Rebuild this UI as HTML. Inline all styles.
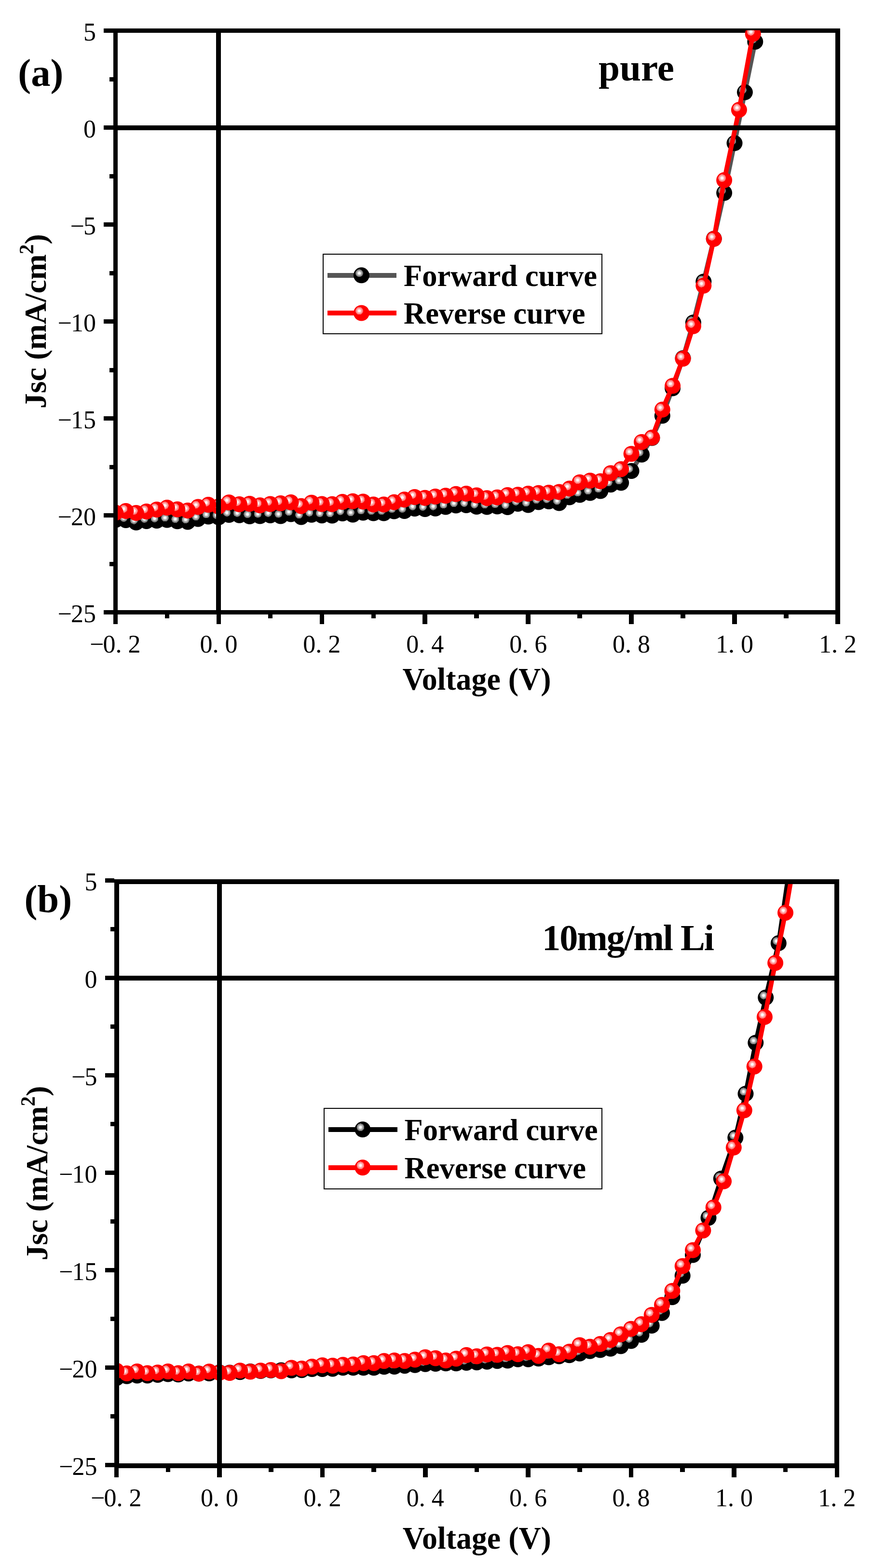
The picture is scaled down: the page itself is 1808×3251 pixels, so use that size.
<!DOCTYPE html>
<html><head><meta charset="utf-8"><title>J-V curves</title>
<style>html,body{margin:0;padding:0;background:#fff;}svg{display:block;}svg rect{shape-rendering:crispEdges;}</style>
</head><body>
<svg width="1808" height="3251" viewBox="0 0 1808 3251">
<defs>
<radialGradient id="ballK" cx="0.364" cy="0.364" r="0.242" fx="0.364" fy="0.364">
<stop offset="0" stop-color="#fafafa"/><stop offset="0.36" stop-color="#f6f6f6"/>
<stop offset="0.37" stop-color="#c4c4c4"/><stop offset="0.62" stop-color="#b8b8b8"/>
<stop offset="0.63" stop-color="#9a9a9a"/><stop offset="0.8" stop-color="#8e8e8e"/>
<stop offset="0.81" stop-color="#767676"/><stop offset="0.985" stop-color="#707070"/>
<stop offset="1" stop-color="#000"/>
</radialGradient>
<radialGradient id="ballR" cx="0.364" cy="0.364" r="0.242" fx="0.364" fy="0.364">
<stop offset="0" stop-color="#fffafa"/><stop offset="0.36" stop-color="#fff6f6"/>
<stop offset="0.37" stop-color="#ffc0c0"/><stop offset="0.62" stop-color="#ffb4b4"/>
<stop offset="0.63" stop-color="#ff9898"/><stop offset="0.8" stop-color="#ff8c8c"/>
<stop offset="0.81" stop-color="#ff7272"/><stop offset="0.985" stop-color="#ff6c6c"/>
<stop offset="1" stop-color="#ff0000"/>
</radialGradient>
</defs>
<rect width="1808" height="3251" fill="#fff"/>
<rect x="235" y="59" width="9" height="1215" fill="#000"/>
<rect x="1732" y="59" width="10" height="1215" fill="#000"/>
<rect x="235" y="59" width="1507" height="9" fill="#000"/>
<rect x="235" y="1265" width="1507" height="9" fill="#000"/>
<rect x="215" y="59.1" width="20" height="9.2" fill="#000"/>
<rect x="215" y="260.1" width="20" height="9.2" fill="#000"/>
<rect x="215" y="461.1" width="20" height="9.2" fill="#000"/>
<rect x="215" y="662.1" width="20" height="9.2" fill="#000"/>
<rect x="215" y="863.1" width="20" height="9.2" fill="#000"/>
<rect x="215" y="1064.1" width="20" height="9.2" fill="#000"/>
<rect x="215" y="1265.1" width="20" height="9.2" fill="#000"/>
<rect x="227" y="159.6" width="8" height="9.2" fill="#000"/>
<rect x="227" y="360.6" width="8" height="9.2" fill="#000"/>
<rect x="227" y="561.6" width="8" height="9.2" fill="#000"/>
<rect x="227" y="762.6" width="8" height="9.2" fill="#000"/>
<rect x="227" y="963.6" width="8" height="9.2" fill="#000"/>
<rect x="227" y="1164.6" width="8" height="9.2" fill="#000"/>
<rect x="234.7" y="1274" width="9.6" height="19.7" fill="#000"/>
<rect x="448.6" y="1274" width="9.6" height="19.7" fill="#000"/>
<rect x="662.5" y="1274" width="9.6" height="19.7" fill="#000"/>
<rect x="876.4" y="1274" width="9.6" height="19.7" fill="#000"/>
<rect x="1090.4" y="1274" width="9.6" height="19.7" fill="#000"/>
<rect x="1304.3" y="1274" width="9.6" height="19.7" fill="#000"/>
<rect x="1518.2" y="1274" width="9.6" height="19.7" fill="#000"/>
<rect x="1732.1" y="1274" width="9.6" height="19.7" fill="#000"/>
<rect x="341.6" y="1274" width="9.6" height="7.5" fill="#000"/>
<rect x="555.6" y="1274" width="9.6" height="7.5" fill="#000"/>
<rect x="769.5" y="1274" width="9.6" height="7.5" fill="#000"/>
<rect x="983.4" y="1274" width="9.6" height="7.5" fill="#000"/>
<rect x="1197.3" y="1274" width="9.6" height="7.5" fill="#000"/>
<rect x="1411.2" y="1274" width="9.6" height="7.5" fill="#000"/>
<rect x="1625.2" y="1274" width="9.6" height="7.5" fill="#000"/>
<clipPath id="clipa"><rect x="244" y="62.7" width="1488" height="1202.3"/></clipPath>
<g clip-path="url(#clipa)">
<polyline fill="none" stroke="#555555" stroke-width="9.5" stroke-linejoin="round" points="239.5,1078 260.9,1078.4 282.3,1083.3 303.7,1080.4 325,1079.5 346.4,1078 367.8,1080.8 389.2,1081.9 410.6,1075.9 432,1071 453.4,1072.5 474.8,1067.5 496.2,1068.2 517.6,1070.6 539,1070.1 560.4,1068.4 581.8,1070.1 603.1,1065.9 624.5,1071.9 645.9,1067.3 667.3,1068.7 688.7,1069 710.1,1064.5 731.5,1067 752.9,1063 774.3,1064 795.7,1064 817.1,1060 838.5,1059.5 859.8,1054.5 881.2,1055.5 902.6,1054.3 924,1051 945.4,1048 966.8,1047.5 988.2,1050.5 1009.6,1051 1031,1050 1052.4,1051.5 1073.8,1044.5 1095.2,1047 1116.6,1041 1137.9,1039.6 1159.3,1043.1 1180.7,1031 1202.1,1026 1223.5,1022 1244.9,1018 1266.3,1004.7 1287.7,1001 1309.1,976.5 1330.5,942.5 1351.9,908 1373.3,862 1394.6,805 1416,742.7 1437.4,668.7 1458.8,583.9 1480.2,495 1501.6,400 1523,296.8 1544.4,191.3 1565.8,86.4 1579.7,20"/>
<circle cx="239.5" cy="1078" r="16.5" fill="url(#ballK)"/>
<circle cx="260.9" cy="1078.4" r="16.5" fill="url(#ballK)"/>
<circle cx="282.3" cy="1083.3" r="16.5" fill="url(#ballK)"/>
<circle cx="303.7" cy="1080.4" r="16.5" fill="url(#ballK)"/>
<circle cx="325" cy="1079.5" r="16.5" fill="url(#ballK)"/>
<circle cx="346.4" cy="1078" r="16.5" fill="url(#ballK)"/>
<circle cx="367.8" cy="1080.8" r="16.5" fill="url(#ballK)"/>
<circle cx="389.2" cy="1081.9" r="16.5" fill="url(#ballK)"/>
<circle cx="410.6" cy="1075.9" r="16.5" fill="url(#ballK)"/>
<circle cx="432" cy="1071" r="16.5" fill="url(#ballK)"/>
<circle cx="453.4" cy="1072.5" r="16.5" fill="url(#ballK)"/>
<circle cx="474.8" cy="1067.5" r="16.5" fill="url(#ballK)"/>
<circle cx="496.2" cy="1068.2" r="16.5" fill="url(#ballK)"/>
<circle cx="517.6" cy="1070.6" r="16.5" fill="url(#ballK)"/>
<circle cx="539" cy="1070.1" r="16.5" fill="url(#ballK)"/>
<circle cx="560.4" cy="1068.4" r="16.5" fill="url(#ballK)"/>
<circle cx="581.8" cy="1070.1" r="16.5" fill="url(#ballK)"/>
<circle cx="603.1" cy="1065.9" r="16.5" fill="url(#ballK)"/>
<circle cx="624.5" cy="1071.9" r="16.5" fill="url(#ballK)"/>
<circle cx="645.9" cy="1067.3" r="16.5" fill="url(#ballK)"/>
<circle cx="667.3" cy="1068.7" r="16.5" fill="url(#ballK)"/>
<circle cx="688.7" cy="1069" r="16.5" fill="url(#ballK)"/>
<circle cx="710.1" cy="1064.5" r="16.5" fill="url(#ballK)"/>
<circle cx="731.5" cy="1067" r="16.5" fill="url(#ballK)"/>
<circle cx="752.9" cy="1063" r="16.5" fill="url(#ballK)"/>
<circle cx="774.3" cy="1064" r="16.5" fill="url(#ballK)"/>
<circle cx="795.7" cy="1064" r="16.5" fill="url(#ballK)"/>
<circle cx="817.1" cy="1060" r="16.5" fill="url(#ballK)"/>
<circle cx="838.5" cy="1059.5" r="16.5" fill="url(#ballK)"/>
<circle cx="859.8" cy="1054.5" r="16.5" fill="url(#ballK)"/>
<circle cx="881.2" cy="1055.5" r="16.5" fill="url(#ballK)"/>
<circle cx="902.6" cy="1054.3" r="16.5" fill="url(#ballK)"/>
<circle cx="924" cy="1051" r="16.5" fill="url(#ballK)"/>
<circle cx="945.4" cy="1048" r="16.5" fill="url(#ballK)"/>
<circle cx="966.8" cy="1047.5" r="16.5" fill="url(#ballK)"/>
<circle cx="988.2" cy="1050.5" r="16.5" fill="url(#ballK)"/>
<circle cx="1009.6" cy="1051" r="16.5" fill="url(#ballK)"/>
<circle cx="1031" cy="1050" r="16.5" fill="url(#ballK)"/>
<circle cx="1052.4" cy="1051.5" r="16.5" fill="url(#ballK)"/>
<circle cx="1073.8" cy="1044.5" r="16.5" fill="url(#ballK)"/>
<circle cx="1095.2" cy="1047" r="16.5" fill="url(#ballK)"/>
<circle cx="1116.6" cy="1041" r="16.5" fill="url(#ballK)"/>
<circle cx="1137.9" cy="1039.6" r="16.5" fill="url(#ballK)"/>
<circle cx="1159.3" cy="1043.1" r="16.5" fill="url(#ballK)"/>
<circle cx="1180.7" cy="1031" r="16.5" fill="url(#ballK)"/>
<circle cx="1202.1" cy="1026" r="16.5" fill="url(#ballK)"/>
<circle cx="1223.5" cy="1022" r="16.5" fill="url(#ballK)"/>
<circle cx="1244.9" cy="1018" r="16.5" fill="url(#ballK)"/>
<circle cx="1266.3" cy="1004.7" r="16.5" fill="url(#ballK)"/>
<circle cx="1287.7" cy="1001" r="16.5" fill="url(#ballK)"/>
<circle cx="1309.1" cy="976.5" r="16.5" fill="url(#ballK)"/>
<circle cx="1330.5" cy="942.5" r="16.5" fill="url(#ballK)"/>
<circle cx="1351.9" cy="908" r="16.5" fill="url(#ballK)"/>
<circle cx="1373.3" cy="862" r="16.5" fill="url(#ballK)"/>
<circle cx="1394.6" cy="805" r="16.5" fill="url(#ballK)"/>
<circle cx="1416" cy="742.7" r="16.5" fill="url(#ballK)"/>
<circle cx="1437.4" cy="668.7" r="16.5" fill="url(#ballK)"/>
<circle cx="1458.8" cy="583.9" r="16.5" fill="url(#ballK)"/>
<circle cx="1480.2" cy="495" r="16.5" fill="url(#ballK)"/>
<circle cx="1501.6" cy="400" r="16.5" fill="url(#ballK)"/>
<circle cx="1523" cy="296.8" r="16.5" fill="url(#ballK)"/>
<circle cx="1544.4" cy="191.3" r="16.5" fill="url(#ballK)"/>
<circle cx="1565.8" cy="86.4" r="16.5" fill="url(#ballK)"/>
<polyline fill="none" stroke="#ff0000" stroke-width="9.5" stroke-linejoin="round" points="239.5,1063 260.9,1059.5 282.3,1063.6 303.7,1060.5 325,1056.5 346.4,1052.5 367.8,1056.1 389.2,1058.5 410.6,1051.1 432,1046.6 453.4,1050 474.8,1041.7 496.2,1045.5 517.6,1044.5 539,1047.8 560.4,1045 581.8,1043.6 603.1,1041.5 624.5,1049.2 645.9,1042.2 667.3,1045 688.7,1045.3 710.1,1040.5 731.5,1039.2 752.9,1039.9 774.3,1046.1 795.7,1046.1 817.1,1041.3 838.5,1035.7 859.8,1030.5 881.2,1032.2 902.6,1029.4 924,1027.8 945.4,1024.3 966.8,1023.6 988.2,1027.1 1009.6,1032.7 1031,1031.3 1052.4,1026.4 1073.8,1025.7 1095.2,1023.6 1116.6,1022.2 1137.9,1021.5 1159.3,1020.1 1180.7,1013.1 1202.1,999.9 1223.5,996.4 1244.9,997.8 1266.3,981 1287.7,972.7 1309.1,941 1330.5,916.4 1351.9,907.3 1373.3,849.3 1394.6,800 1416,743.8 1437.4,676.3 1458.8,592.3 1480.2,495.3 1501.6,373.6 1532.4,227.7 1561.2,70.3 1570.4,20"/>
<circle cx="1561.2" cy="70.3" r="16.5" fill="url(#ballR)"/>
<circle cx="1532.4" cy="227.7" r="16.5" fill="url(#ballR)"/>
<circle cx="1501.6" cy="373.6" r="16.5" fill="url(#ballR)"/>
<circle cx="1480.2" cy="495.3" r="16.5" fill="url(#ballR)"/>
<circle cx="1458.8" cy="592.3" r="16.5" fill="url(#ballR)"/>
<circle cx="1437.4" cy="676.3" r="16.5" fill="url(#ballR)"/>
<circle cx="1416" cy="743.8" r="16.5" fill="url(#ballR)"/>
<circle cx="1394.6" cy="800" r="16.5" fill="url(#ballR)"/>
<circle cx="1373.3" cy="849.3" r="16.5" fill="url(#ballR)"/>
<circle cx="1351.9" cy="907.3" r="16.5" fill="url(#ballR)"/>
<circle cx="1330.5" cy="916.4" r="16.5" fill="url(#ballR)"/>
<circle cx="1309.1" cy="941" r="16.5" fill="url(#ballR)"/>
<circle cx="1287.7" cy="972.7" r="16.5" fill="url(#ballR)"/>
<circle cx="1266.3" cy="981" r="16.5" fill="url(#ballR)"/>
<circle cx="1244.9" cy="997.8" r="16.5" fill="url(#ballR)"/>
<circle cx="1223.5" cy="996.4" r="16.5" fill="url(#ballR)"/>
<circle cx="1202.1" cy="999.9" r="16.5" fill="url(#ballR)"/>
<circle cx="1180.7" cy="1013.1" r="16.5" fill="url(#ballR)"/>
<circle cx="1159.3" cy="1020.1" r="16.5" fill="url(#ballR)"/>
<circle cx="1137.9" cy="1021.5" r="16.5" fill="url(#ballR)"/>
<circle cx="1116.6" cy="1022.2" r="16.5" fill="url(#ballR)"/>
<circle cx="1095.2" cy="1023.6" r="16.5" fill="url(#ballR)"/>
<circle cx="1073.8" cy="1025.7" r="16.5" fill="url(#ballR)"/>
<circle cx="1052.4" cy="1026.4" r="16.5" fill="url(#ballR)"/>
<circle cx="1031" cy="1031.3" r="16.5" fill="url(#ballR)"/>
<circle cx="1009.6" cy="1032.7" r="16.5" fill="url(#ballR)"/>
<circle cx="988.2" cy="1027.1" r="16.5" fill="url(#ballR)"/>
<circle cx="966.8" cy="1023.6" r="16.5" fill="url(#ballR)"/>
<circle cx="945.4" cy="1024.3" r="16.5" fill="url(#ballR)"/>
<circle cx="924" cy="1027.8" r="16.5" fill="url(#ballR)"/>
<circle cx="902.6" cy="1029.4" r="16.5" fill="url(#ballR)"/>
<circle cx="881.2" cy="1032.2" r="16.5" fill="url(#ballR)"/>
<circle cx="859.8" cy="1030.5" r="16.5" fill="url(#ballR)"/>
<circle cx="838.5" cy="1035.7" r="16.5" fill="url(#ballR)"/>
<circle cx="817.1" cy="1041.3" r="16.5" fill="url(#ballR)"/>
<circle cx="795.7" cy="1046.1" r="16.5" fill="url(#ballR)"/>
<circle cx="774.3" cy="1046.1" r="16.5" fill="url(#ballR)"/>
<circle cx="752.9" cy="1039.9" r="16.5" fill="url(#ballR)"/>
<circle cx="731.5" cy="1039.2" r="16.5" fill="url(#ballR)"/>
<circle cx="710.1" cy="1040.5" r="16.5" fill="url(#ballR)"/>
<circle cx="688.7" cy="1045.3" r="16.5" fill="url(#ballR)"/>
<circle cx="667.3" cy="1045" r="16.5" fill="url(#ballR)"/>
<circle cx="645.9" cy="1042.2" r="16.5" fill="url(#ballR)"/>
<circle cx="624.5" cy="1049.2" r="16.5" fill="url(#ballR)"/>
<circle cx="603.1" cy="1041.5" r="16.5" fill="url(#ballR)"/>
<circle cx="581.8" cy="1043.6" r="16.5" fill="url(#ballR)"/>
<circle cx="560.4" cy="1045" r="16.5" fill="url(#ballR)"/>
<circle cx="539" cy="1047.8" r="16.5" fill="url(#ballR)"/>
<circle cx="517.6" cy="1044.5" r="16.5" fill="url(#ballR)"/>
<circle cx="496.2" cy="1045.5" r="16.5" fill="url(#ballR)"/>
<circle cx="474.8" cy="1041.7" r="16.5" fill="url(#ballR)"/>
<circle cx="453.4" cy="1050" r="16.5" fill="url(#ballR)"/>
<circle cx="432" cy="1046.6" r="16.5" fill="url(#ballR)"/>
<circle cx="410.6" cy="1051.1" r="16.5" fill="url(#ballR)"/>
<circle cx="389.2" cy="1058.5" r="16.5" fill="url(#ballR)"/>
<circle cx="367.8" cy="1056.1" r="16.5" fill="url(#ballR)"/>
<circle cx="346.4" cy="1052.5" r="16.5" fill="url(#ballR)"/>
<circle cx="325" cy="1056.5" r="16.5" fill="url(#ballR)"/>
<circle cx="303.7" cy="1060.5" r="16.5" fill="url(#ballR)"/>
<circle cx="282.3" cy="1063.6" r="16.5" fill="url(#ballR)"/>
<circle cx="260.9" cy="1059.5" r="16.5" fill="url(#ballR)"/>
<circle cx="239.5" cy="1063" r="16.5" fill="url(#ballR)"/>
</g>
<rect x="447.9" y="59" width="10" height="1215" fill="#000"/>
<rect x="235" y="260.4" width="1507" height="9.2" fill="#000"/>
<g font-family="'Liberation Serif','Times New Roman',serif" font-size="52" fill="#000">
<text x="173" y="83.9">5</text>
<text x="173" y="284.9">0</text>
<text x="145.5 173" y="485.9">−5</text>
<text x="119.5 147 173" y="686.9">−10</text>
<text x="119.5 147 173" y="887.9">−15</text>
<text x="119.5 147 173" y="1088.9">−20</text>
<text x="119.5 147 173" y="1289.9">−25</text>
<text x="186 213.5 239.5 265.5" y="1353.3">−0.2</text>
<text x="414.4 440.4 466.4" y="1353.3">0.0</text>
<text x="628.3 654.3 680.3" y="1353.3">0.2</text>
<text x="842.2 868.2 894.2" y="1353.3">0.4</text>
<text x="1056.2 1082.2 1108.2" y="1353.3">0.6</text>
<text x="1270.1 1296.1 1322.1" y="1353.3">0.8</text>
<text x="1484 1510 1536" y="1353.3">1.0</text>
<text x="1697.9 1723.9 1749.9" y="1353.3">1.2</text>
</g>
<rect x="237" y="1823" width="10" height="1221" fill="#000"/>
<rect x="1730" y="1823" width="10" height="1221" fill="#000"/>
<rect x="237" y="1823" width="1503" height="10" fill="#000"/>
<rect x="237" y="3034" width="1503" height="10" fill="#000"/>
<rect x="218" y="1821.2" width="19" height="9.2" fill="#000"/>
<rect x="218" y="2023.2" width="19" height="9.2" fill="#000"/>
<rect x="218" y="2225.2" width="19" height="9.2" fill="#000"/>
<rect x="218" y="2427.2" width="19" height="9.2" fill="#000"/>
<rect x="218" y="2629.2" width="19" height="9.2" fill="#000"/>
<rect x="218" y="2831.2" width="19" height="9.2" fill="#000"/>
<rect x="218" y="3033.2" width="19" height="9.2" fill="#000"/>
<rect x="229" y="1922.2" width="8" height="9.2" fill="#000"/>
<rect x="229" y="2124.2" width="8" height="9.2" fill="#000"/>
<rect x="229" y="2326.2" width="8" height="9.2" fill="#000"/>
<rect x="229" y="2528.2" width="8" height="9.2" fill="#000"/>
<rect x="229" y="2730.2" width="8" height="9.2" fill="#000"/>
<rect x="229" y="2932.2" width="8" height="9.2" fill="#000"/>
<rect x="236.8" y="3044" width="9.6" height="18.6" fill="#000"/>
<rect x="450.2" y="3044" width="9.6" height="18.6" fill="#000"/>
<rect x="663.6" y="3044" width="9.6" height="18.6" fill="#000"/>
<rect x="877" y="3044" width="9.6" height="18.6" fill="#000"/>
<rect x="1090.3" y="3044" width="9.6" height="18.6" fill="#000"/>
<rect x="1303.7" y="3044" width="9.6" height="18.6" fill="#000"/>
<rect x="1517.1" y="3044" width="9.6" height="18.6" fill="#000"/>
<rect x="1730.5" y="3044" width="9.6" height="18.6" fill="#000"/>
<rect x="343.5" y="3044" width="9.6" height="7.5" fill="#000"/>
<rect x="556.9" y="3044" width="9.6" height="7.5" fill="#000"/>
<rect x="770.3" y="3044" width="9.6" height="7.5" fill="#000"/>
<rect x="983.7" y="3044" width="9.6" height="7.5" fill="#000"/>
<rect x="1197" y="3044" width="9.6" height="7.5" fill="#000"/>
<rect x="1410.4" y="3044" width="9.6" height="7.5" fill="#000"/>
<rect x="1623.8" y="3044" width="9.6" height="7.5" fill="#000"/>
<clipPath id="clipb"><rect x="247" y="1833" width="1483" height="1201"/></clipPath>
<g clip-path="url(#clipb)">
<polyline fill="none" stroke="#000000" stroke-width="9.5" stroke-linejoin="round" points="241.6,2857 263,2853.3 284.3,2851.9 305.6,2851.9 327,2850.5 348.3,2849.1 369.6,2849.8 391,2847.7 412.3,2848 433.7,2847.6 455,2845.4 476.3,2846 497.7,2844.7 519,2843.5 540.4,2842.6 561.7,2841.2 583,2841 604.4,2841.2 625.7,2840.7 647,2838.6 668.4,2838.6 689.7,2837.9 711.1,2835.8 732.4,2835.8 753.7,2835.8 775.1,2835.8 796.4,2833.8 817.7,2833.5 839.1,2831.7 860.4,2830.3 881.8,2828.2 903.1,2827.5 924.4,2826.8 945.8,2826.8 967.1,2825.4 988.5,2824.7 1009.8,2823.2 1031.1,2821.7 1052.5,2821 1073.8,2818.2 1095.1,2818.2 1116.5,2816.8 1137.8,2814 1159.2,2811.9 1180.5,2809.8 1201.8,2806.3 1223.2,2801.2 1244.5,2799.1 1265.8,2796.3 1287.2,2791 1308.5,2780.3 1329.9,2767.5 1351.2,2748.6 1372.5,2722.2 1393.9,2689.5 1415.2,2645 1436.5,2602 1469,2525 1495.3,2443.8 1524.8,2358.8 1546,2267.7 1566.8,2162 1587.7,2068.3 1614.3,1955.6 1638.3,1790"/>
<circle cx="241.6" cy="2857" r="16.5" fill="url(#ballK)"/>
<circle cx="263" cy="2853.3" r="16.5" fill="url(#ballK)"/>
<circle cx="284.3" cy="2851.9" r="16.5" fill="url(#ballK)"/>
<circle cx="305.6" cy="2851.9" r="16.5" fill="url(#ballK)"/>
<circle cx="327" cy="2850.5" r="16.5" fill="url(#ballK)"/>
<circle cx="348.3" cy="2849.1" r="16.5" fill="url(#ballK)"/>
<circle cx="369.6" cy="2849.8" r="16.5" fill="url(#ballK)"/>
<circle cx="391" cy="2847.7" r="16.5" fill="url(#ballK)"/>
<circle cx="412.3" cy="2848" r="16.5" fill="url(#ballK)"/>
<circle cx="433.7" cy="2847.6" r="16.5" fill="url(#ballK)"/>
<circle cx="455" cy="2845.4" r="16.5" fill="url(#ballK)"/>
<circle cx="476.3" cy="2846" r="16.5" fill="url(#ballK)"/>
<circle cx="497.7" cy="2844.7" r="16.5" fill="url(#ballK)"/>
<circle cx="519" cy="2843.5" r="16.5" fill="url(#ballK)"/>
<circle cx="540.4" cy="2842.6" r="16.5" fill="url(#ballK)"/>
<circle cx="561.7" cy="2841.2" r="16.5" fill="url(#ballK)"/>
<circle cx="583" cy="2841" r="16.5" fill="url(#ballK)"/>
<circle cx="604.4" cy="2841.2" r="16.5" fill="url(#ballK)"/>
<circle cx="625.7" cy="2840.7" r="16.5" fill="url(#ballK)"/>
<circle cx="647" cy="2838.6" r="16.5" fill="url(#ballK)"/>
<circle cx="668.4" cy="2838.6" r="16.5" fill="url(#ballK)"/>
<circle cx="689.7" cy="2837.9" r="16.5" fill="url(#ballK)"/>
<circle cx="711.1" cy="2835.8" r="16.5" fill="url(#ballK)"/>
<circle cx="732.4" cy="2835.8" r="16.5" fill="url(#ballK)"/>
<circle cx="753.7" cy="2835.8" r="16.5" fill="url(#ballK)"/>
<circle cx="775.1" cy="2835.8" r="16.5" fill="url(#ballK)"/>
<circle cx="796.4" cy="2833.8" r="16.5" fill="url(#ballK)"/>
<circle cx="817.7" cy="2833.5" r="16.5" fill="url(#ballK)"/>
<circle cx="839.1" cy="2831.7" r="16.5" fill="url(#ballK)"/>
<circle cx="860.4" cy="2830.3" r="16.5" fill="url(#ballK)"/>
<circle cx="881.8" cy="2828.2" r="16.5" fill="url(#ballK)"/>
<circle cx="903.1" cy="2827.5" r="16.5" fill="url(#ballK)"/>
<circle cx="924.4" cy="2826.8" r="16.5" fill="url(#ballK)"/>
<circle cx="945.8" cy="2826.8" r="16.5" fill="url(#ballK)"/>
<circle cx="967.1" cy="2825.4" r="16.5" fill="url(#ballK)"/>
<circle cx="988.5" cy="2824.7" r="16.5" fill="url(#ballK)"/>
<circle cx="1009.8" cy="2823.2" r="16.5" fill="url(#ballK)"/>
<circle cx="1031.1" cy="2821.7" r="16.5" fill="url(#ballK)"/>
<circle cx="1052.5" cy="2821" r="16.5" fill="url(#ballK)"/>
<circle cx="1073.8" cy="2818.2" r="16.5" fill="url(#ballK)"/>
<circle cx="1095.1" cy="2818.2" r="16.5" fill="url(#ballK)"/>
<circle cx="1116.5" cy="2816.8" r="16.5" fill="url(#ballK)"/>
<circle cx="1137.8" cy="2814" r="16.5" fill="url(#ballK)"/>
<circle cx="1159.2" cy="2811.9" r="16.5" fill="url(#ballK)"/>
<circle cx="1180.5" cy="2809.8" r="16.5" fill="url(#ballK)"/>
<circle cx="1201.8" cy="2806.3" r="16.5" fill="url(#ballK)"/>
<circle cx="1223.2" cy="2801.2" r="16.5" fill="url(#ballK)"/>
<circle cx="1244.5" cy="2799.1" r="16.5" fill="url(#ballK)"/>
<circle cx="1265.8" cy="2796.3" r="16.5" fill="url(#ballK)"/>
<circle cx="1287.2" cy="2791" r="16.5" fill="url(#ballK)"/>
<circle cx="1308.5" cy="2780.3" r="16.5" fill="url(#ballK)"/>
<circle cx="1329.9" cy="2767.5" r="16.5" fill="url(#ballK)"/>
<circle cx="1351.2" cy="2748.6" r="16.5" fill="url(#ballK)"/>
<circle cx="1372.5" cy="2722.2" r="16.5" fill="url(#ballK)"/>
<circle cx="1393.9" cy="2689.5" r="16.5" fill="url(#ballK)"/>
<circle cx="1415.2" cy="2645" r="16.5" fill="url(#ballK)"/>
<circle cx="1436.5" cy="2602" r="16.5" fill="url(#ballK)"/>
<circle cx="1469" cy="2525" r="16.5" fill="url(#ballK)"/>
<circle cx="1495.3" cy="2443.8" r="16.5" fill="url(#ballK)"/>
<circle cx="1524.8" cy="2358.8" r="16.5" fill="url(#ballK)"/>
<circle cx="1546" cy="2267.7" r="16.5" fill="url(#ballK)"/>
<circle cx="1566.8" cy="2162" r="16.5" fill="url(#ballK)"/>
<circle cx="1587.7" cy="2068.3" r="16.5" fill="url(#ballK)"/>
<circle cx="1614.3" cy="1955.6" r="16.5" fill="url(#ballK)"/>
<polyline fill="none" stroke="#ff0000" stroke-width="9.5" stroke-linejoin="round" points="241.6,2842 263,2847.5 284.3,2843.6 305.6,2847.1 327,2845.7 348.3,2843.6 369.6,2847 391,2843.6 412.3,2848 433.7,2843.8 455,2846 476.3,2846.5 497.7,2841.7 519,2844.1 540.4,2841.7 561.7,2840.6 583,2842.9 604.4,2835.9 625.7,2837.5 647,2833.5 668.4,2830.7 689.7,2831.5 711.1,2829.8 732.4,2829 753.7,2826.2 775.1,2826.2 796.4,2821.7 817.7,2820.8 839.1,2821.7 860.4,2819.1 881.8,2814.1 903.1,2816 924.4,2820.8 945.8,2817.1 967.1,2809.6 988.5,2812.1 1009.8,2808.2 1031.1,2809 1052.5,2805.2 1073.8,2807.8 1095.1,2803.6 1116.5,2811.2 1137.8,2800.3 1159.2,2807.8 1180.5,2802.5 1201.8,2789 1223.2,2792.2 1244.5,2786.6 1265.8,2778.3 1287.2,2766.4 1308.5,2755.2 1329.9,2745.5 1351.2,2726.2 1372.5,2705.4 1393.9,2676.4 1415.2,2625.1 1436.5,2592 1457.9,2551.2 1479.2,2503.4 1500.6,2449.3 1521.3,2379.3 1543.3,2302.1 1564.2,2211.2 1585.4,2108.5 1607.6,1996.5 1628.5,1892.4 1646,1790"/>
<circle cx="1628.5" cy="1892.4" r="16.5" fill="url(#ballR)"/>
<circle cx="1607.6" cy="1996.5" r="16.5" fill="url(#ballR)"/>
<circle cx="1585.4" cy="2108.5" r="16.5" fill="url(#ballR)"/>
<circle cx="1564.2" cy="2211.2" r="16.5" fill="url(#ballR)"/>
<circle cx="1543.3" cy="2302.1" r="16.5" fill="url(#ballR)"/>
<circle cx="1521.3" cy="2379.3" r="16.5" fill="url(#ballR)"/>
<circle cx="1500.6" cy="2449.3" r="16.5" fill="url(#ballR)"/>
<circle cx="1479.2" cy="2503.4" r="16.5" fill="url(#ballR)"/>
<circle cx="1457.9" cy="2551.2" r="16.5" fill="url(#ballR)"/>
<circle cx="1436.5" cy="2592" r="16.5" fill="url(#ballR)"/>
<circle cx="1415.2" cy="2625.1" r="16.5" fill="url(#ballR)"/>
<circle cx="1393.9" cy="2676.4" r="16.5" fill="url(#ballR)"/>
<circle cx="1372.5" cy="2705.4" r="16.5" fill="url(#ballR)"/>
<circle cx="1351.2" cy="2726.2" r="16.5" fill="url(#ballR)"/>
<circle cx="1329.9" cy="2745.5" r="16.5" fill="url(#ballR)"/>
<circle cx="1308.5" cy="2755.2" r="16.5" fill="url(#ballR)"/>
<circle cx="1287.2" cy="2766.4" r="16.5" fill="url(#ballR)"/>
<circle cx="1265.8" cy="2778.3" r="16.5" fill="url(#ballR)"/>
<circle cx="1244.5" cy="2786.6" r="16.5" fill="url(#ballR)"/>
<circle cx="1223.2" cy="2792.2" r="16.5" fill="url(#ballR)"/>
<circle cx="1201.8" cy="2789" r="16.5" fill="url(#ballR)"/>
<circle cx="1180.5" cy="2802.5" r="16.5" fill="url(#ballR)"/>
<circle cx="1159.2" cy="2807.8" r="16.5" fill="url(#ballR)"/>
<circle cx="1137.8" cy="2800.3" r="16.5" fill="url(#ballR)"/>
<circle cx="1116.5" cy="2811.2" r="16.5" fill="url(#ballR)"/>
<circle cx="1095.1" cy="2803.6" r="16.5" fill="url(#ballR)"/>
<circle cx="1073.8" cy="2807.8" r="16.5" fill="url(#ballR)"/>
<circle cx="1052.5" cy="2805.2" r="16.5" fill="url(#ballR)"/>
<circle cx="1031.1" cy="2809" r="16.5" fill="url(#ballR)"/>
<circle cx="1009.8" cy="2808.2" r="16.5" fill="url(#ballR)"/>
<circle cx="988.5" cy="2812.1" r="16.5" fill="url(#ballR)"/>
<circle cx="967.1" cy="2809.6" r="16.5" fill="url(#ballR)"/>
<circle cx="945.8" cy="2817.1" r="16.5" fill="url(#ballR)"/>
<circle cx="924.4" cy="2820.8" r="16.5" fill="url(#ballR)"/>
<circle cx="903.1" cy="2816" r="16.5" fill="url(#ballR)"/>
<circle cx="881.8" cy="2814.1" r="16.5" fill="url(#ballR)"/>
<circle cx="860.4" cy="2819.1" r="16.5" fill="url(#ballR)"/>
<circle cx="839.1" cy="2821.7" r="16.5" fill="url(#ballR)"/>
<circle cx="817.7" cy="2820.8" r="16.5" fill="url(#ballR)"/>
<circle cx="796.4" cy="2821.7" r="16.5" fill="url(#ballR)"/>
<circle cx="775.1" cy="2826.2" r="16.5" fill="url(#ballR)"/>
<circle cx="753.7" cy="2826.2" r="16.5" fill="url(#ballR)"/>
<circle cx="732.4" cy="2829" r="16.5" fill="url(#ballR)"/>
<circle cx="711.1" cy="2829.8" r="16.5" fill="url(#ballR)"/>
<circle cx="689.7" cy="2831.5" r="16.5" fill="url(#ballR)"/>
<circle cx="668.4" cy="2830.7" r="16.5" fill="url(#ballR)"/>
<circle cx="647" cy="2833.5" r="16.5" fill="url(#ballR)"/>
<circle cx="625.7" cy="2837.5" r="16.5" fill="url(#ballR)"/>
<circle cx="604.4" cy="2835.9" r="16.5" fill="url(#ballR)"/>
<circle cx="583" cy="2842.9" r="16.5" fill="url(#ballR)"/>
<circle cx="561.7" cy="2840.6" r="16.5" fill="url(#ballR)"/>
<circle cx="540.4" cy="2841.7" r="16.5" fill="url(#ballR)"/>
<circle cx="519" cy="2844.1" r="16.5" fill="url(#ballR)"/>
<circle cx="497.7" cy="2841.7" r="16.5" fill="url(#ballR)"/>
<circle cx="476.3" cy="2846.5" r="16.5" fill="url(#ballR)"/>
<circle cx="455" cy="2846" r="16.5" fill="url(#ballR)"/>
<circle cx="433.7" cy="2843.8" r="16.5" fill="url(#ballR)"/>
<circle cx="412.3" cy="2848" r="16.5" fill="url(#ballR)"/>
<circle cx="391" cy="2843.6" r="16.5" fill="url(#ballR)"/>
<circle cx="369.6" cy="2847" r="16.5" fill="url(#ballR)"/>
<circle cx="348.3" cy="2843.6" r="16.5" fill="url(#ballR)"/>
<circle cx="327" cy="2845.7" r="16.5" fill="url(#ballR)"/>
<circle cx="305.6" cy="2847.1" r="16.5" fill="url(#ballR)"/>
<circle cx="284.3" cy="2843.6" r="16.5" fill="url(#ballR)"/>
<circle cx="263" cy="2847.5" r="16.5" fill="url(#ballR)"/>
<circle cx="241.6" cy="2842" r="16.5" fill="url(#ballR)"/>
</g>
<rect x="450" y="1823" width="9.8" height="1221" fill="#000"/>
<rect x="237" y="2022.9" width="1503" height="9.9" fill="#000"/>
<g font-family="'Liberation Serif','Times New Roman',serif" font-size="52" fill="#000">
<text x="175.5" y="1846.4">5</text>
<text x="175.5" y="2048.4">0</text>
<text x="148 175.5" y="2250.4">−5</text>
<text x="122 149.5 175.5" y="2452.4">−10</text>
<text x="122 149.5 175.5" y="2654.4">−15</text>
<text x="122 149.5 175.5" y="2856.4">−20</text>
<text x="122 149.5 175.5" y="3058.4">−25</text>
<text x="188.1 215.6 241.6 267.6" y="3123.3">−0.2</text>
<text x="416 442 468" y="3123.3">0.0</text>
<text x="629.4 655.4 681.4" y="3123.3">0.2</text>
<text x="842.8 868.8 894.8" y="3123.3">0.4</text>
<text x="1056.1 1082.1 1108.1" y="3123.3">0.6</text>
<text x="1269.5 1295.5 1321.5" y="3123.3">0.8</text>
<text x="1482.9 1508.9 1534.9" y="3123.3">1.0</text>
<text x="1696.3 1722.3 1748.3" y="3123.3">1.2</text>
</g>
<rect x="670" y="527" width="578" height="165" fill="none" stroke="#000" stroke-width="2"/>
<rect x="678.5" y="566" width="143" height="9.6" fill="#555555"/>
<circle cx="749.4" cy="570.8" r="16.5" fill="url(#ballK)"/>
<rect x="678.5" y="644.2" width="143" height="9.6" fill="#ff0000"/>
<circle cx="749.4" cy="649" r="16.5" fill="url(#ballR)"/>
<text x="837" y="592.8" font-family="'Liberation Serif','Times New Roman',serif" font-weight="bold" font-size="64" textLength="401" lengthAdjust="spacingAndGlyphs">Forward curve</text>
<text x="837" y="670.5" font-family="'Liberation Serif','Times New Roman',serif" font-weight="bold" font-size="64" textLength="376.5" lengthAdjust="spacingAndGlyphs">Reverse curve</text>
<rect x="672" y="2298" width="576" height="167" fill="none" stroke="#000" stroke-width="2"/>
<rect x="680.5" y="2337" width="143" height="9.6" fill="#000000"/>
<circle cx="751.9" cy="2341.8" r="16.5" fill="url(#ballK)"/>
<rect x="680.5" y="2416" width="143" height="9.6" fill="#ff0000"/>
<circle cx="751.9" cy="2420.8" r="16.5" fill="url(#ballR)"/>
<text x="838.6" y="2364.1" font-family="'Liberation Serif','Times New Roman',serif" font-weight="bold" font-size="64" textLength="401" lengthAdjust="spacingAndGlyphs">Forward curve</text>
<text x="838.6" y="2443.1" font-family="'Liberation Serif','Times New Roman',serif" font-weight="bold" font-size="64" textLength="376.5" lengthAdjust="spacingAndGlyphs">Reverse curve</text>
<text x="988.4" y="1430" text-anchor="middle" font-family="'Liberation Serif','Times New Roman',serif" font-weight="bold" font-size="64.8" textLength="308" lengthAdjust="spacingAndGlyphs">Voltage (V)</text>
<text x="988.8" y="3210.7" text-anchor="middle" font-family="'Liberation Serif','Times New Roman',serif" font-weight="bold" font-size="64.8" textLength="308" lengthAdjust="spacingAndGlyphs">Voltage (V)</text>
<text transform="translate(94.6,847) rotate(-90) scale(0.994,1)" font-family="'Liberation Serif','Times New Roman',serif" font-weight="bold" font-size="64"><tspan>Jsc (mA/cm</tspan><tspan font-size="42" dy="-26">2</tspan><tspan dy="26">)</tspan></text>
<text transform="translate(98.2,2613.3) rotate(-90) scale(0.994,1)" font-family="'Liberation Serif','Times New Roman',serif" font-weight="bold" font-size="64"><tspan>Jsc (mA/cm</tspan><tspan font-size="42" dy="-26">2</tspan><tspan dy="26">)</tspan></text>
<text x="37.3" y="177.9" font-family="'Liberation Serif','Times New Roman',serif" font-weight="bold" font-size="80.8">(a)</text>
<text x="50.4" y="1891" font-family="'Liberation Serif','Times New Roman',serif" font-weight="bold" font-size="80.8">(b)</text>
<text x="1240.9" y="167" font-family="'Liberation Serif','Times New Roman',serif" font-weight="bold" font-size="79.2">pure</text>
<text x="1124" y="1970.1" font-family="'Liberation Serif','Times New Roman',serif" font-weight="bold" font-size="76.3" textLength="357" lengthAdjust="spacing">10mg/ml Li</text>
</svg>
</body></html>
